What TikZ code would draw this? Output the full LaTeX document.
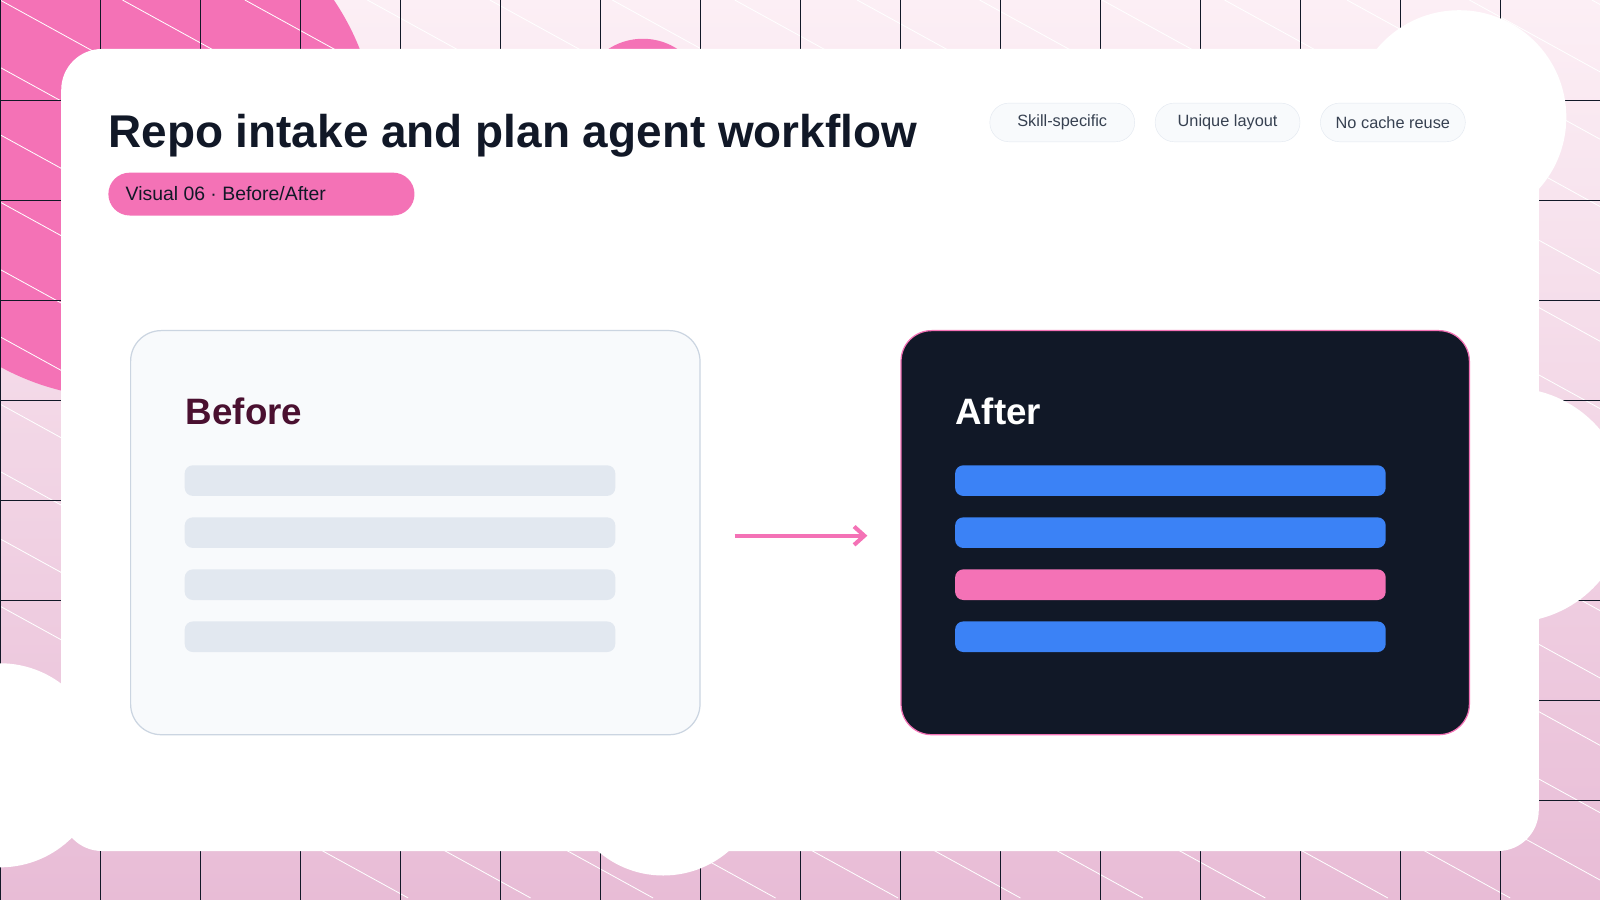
\documentclass[tikz,border=0pt]{standalone}
\usepackage{fontspec}
\setmainfont{Liberation Sans}
\usetikzlibrary{arrows.meta}
\definecolor{ink}{HTML}{111827}
\definecolor{pinkc}{HTML}{F472B6}
\definecolor{bluec}{HTML}{3B82F6}
\definecolor{barg}{HTML}{E2E8F0}
\definecolor{paper}{HTML}{F8FAFC}
\definecolor{edge}{HTML}{CBD5E1}
\definecolor{wine}{HTML}{4A1030}
\definecolor{tagtxt}{HTML}{374151}
\definecolor{bgtop}{HTML}{FCEFF5}
\definecolor{bgbot}{HTML}{E8BCD6}
\tikzset{
 tag/.style={draw=barg,fill=paper,rounded corners=19pt,minimum width=142pt,minimum height=38pt,text=tagtxt,font=\fontsize{16}{18}\selectfont},
 bar/.style={rounded corners=8pt},
}
\begin{document}
\begin{tikzpicture}[x=1pt,y=-1pt]
\useasboundingbox (0,0) rectangle (1568,882);
\shade[top color=bgtop,bottom color=bgbot] (0,0) rectangle (1568,882);
\begin{scope}
\clip (0,0) rectangle (1568,882);
\fill[pinkc] (120,140) circle (250);
\fill[pinkc] (630,100) circle (62);
\foreach \i in {-10,...,20}{\draw[white,line width=0.8pt] (\i*120,0) -- ++(1600,880);}
\foreach \x in {0,98,...,1568}{\draw[ink,line width=0.6pt] (\x,0) -- (\x,882);}
\foreach \y in {98,196,...,882}{\draw[ink,line width=0.6pt] (0,\y) -- (1568,\y);}
\fill[white] (1430,115) circle (105);
\fill[white] (1480,495) circle (115);
\fill[white] (0,750) circle (100);
\fill[white] (650,760) circle (98);
\end{scope}
\fill[white,rounded corners=40pt] (60,48) rectangle (1508,834);
\node[anchor=base west,text=ink,font=\bfseries\fontsize{45}{50}\selectfont,inner sep=0] (title) at (106,145) {Repo intake and plan agent workflow};
\node[fill=pinkc,rounded corners=21pt,minimum width=300pt,minimum height=42pt,anchor=north west,inner sep=0] (pill) at (106,169) {};
\node[anchor=west,text=ink,font=\fontsize{19}{22}\selectfont,inner sep=0] (pilltxt) at (123,190) {Visual 06 · Before/After};
\node[tag] (t1) at (1041,120) {Skill-specific};
\node[tag] (t2) at (1203,120) {Unique layout};
\node[tag] (t3) at (1365,120) {No cache reuse};
\draw[edge,fill=paper,line width=1.2pt,rounded corners=30pt] (128,324) rectangle (686,720);
\node[draw=none,minimum width=558pt,minimum height=396pt,inner sep=0] (before) at (407,522) {};
\node[anchor=base west,text=wine,font=\bfseries\fontsize{36}{40}\selectfont,inner sep=0] (bt) at (182,416) {Before};
\foreach \y in {456,507,558,609}{\fill[barg,bar] (181,\y) rectangle (603,\y+30);}
\draw[pinkc,fill=ink,line width=1.2pt,rounded corners=30pt] (883,324) rectangle (1440,720);
\node[minimum width=557pt,minimum height=396pt,inner sep=0] (after) at (1161.5,522) {};
\node[anchor=base west,text=white,font=\bfseries\fontsize{36}{40}\selectfont,inner sep=0] (at) at (936,416) {After};
\fill[bluec,bar] (936,456) rectangle (1358,486);
\fill[bluec,bar] (936,507) rectangle (1358,537);
\fill[pinkc,bar] (936,558) rectangle (1358,588);
\fill[bluec,bar] (936,609) rectangle (1358,639);
\coordinate (a1) at (720,525);
\coordinate (a2) at (850,525);
\draw[pinkc,line width=4pt,-{Straight Barb[length=10pt,width=18pt]}] (a1) -- (a2);
\end{tikzpicture}
\end{document}
